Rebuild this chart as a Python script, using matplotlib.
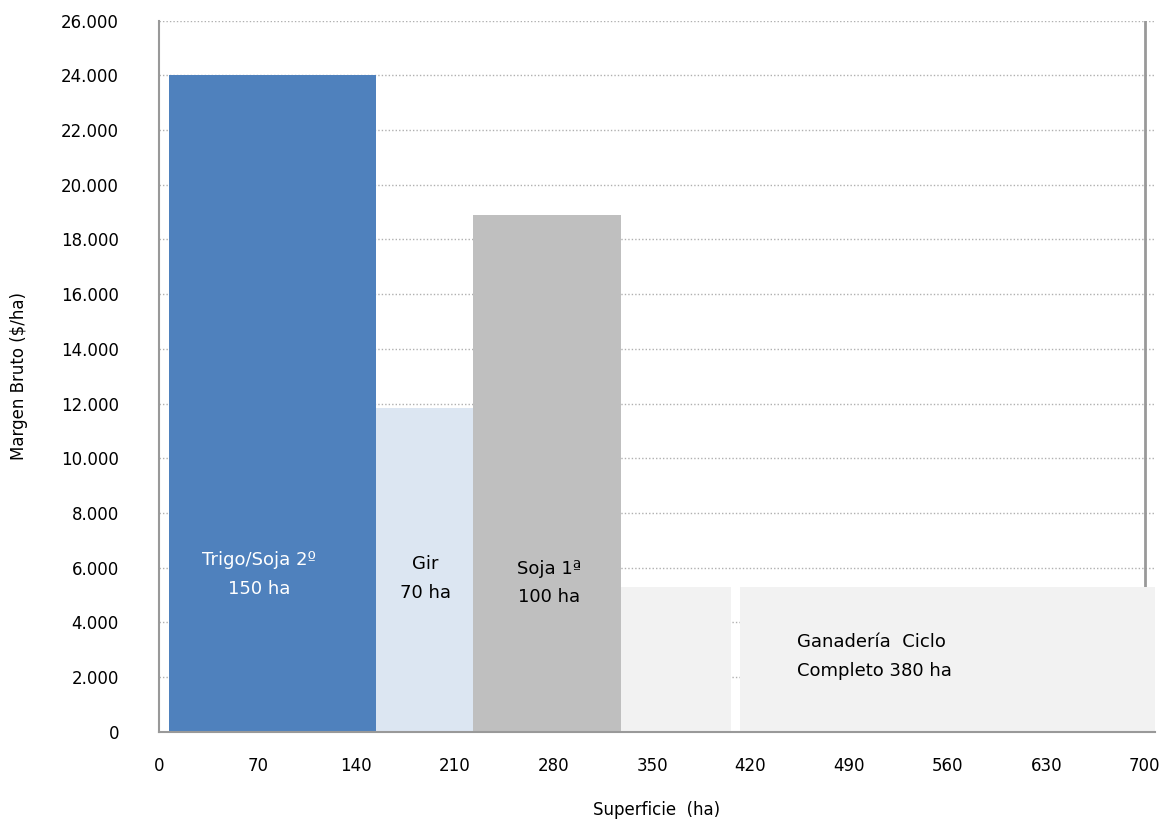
import matplotlib
matplotlib.use("Agg")
import matplotlib.pyplot as plt
from matplotlib.ticker import FuncFormatter, MultipleLocator

# data (ha on x, $/ha on y)
labels = ["Trigo/Soja 2º\n150 ha", "Gir\n70 ha", "Soja 1ª\n100 ha", "", "Ganadería  Ciclo\nCompleto 380 ha"]
starts = [7, 154, 223, 328, 412.5]
widths = [147, 69, 105, 78, 294.5]
margen = [24000, 11850, 18900, 5300, 5300]
colors = ["#4f81bd", "#dce6f2", "#bfbfbf", "#f2f2f2", "#f2f2f2"]
text_colors = ["white", "black", "black", "black", "black"]
label_x = [71, 189, 277, 0, 453]
label_y = [5750, 5600, 5450, 0, 2750]

plt.rcParams['font.family'] = ['DejaVu Sans']

fig = plt.figure(figsize=(11.71, 8.26), dpi=100)
ax = fig.add_axes([0.136, 0.114, 0.850, 0.861])

ax.bar(starts, margen, width=widths, align='edge', color=colors, zorder=2)

for i, lab in enumerate(labels):
    if not lab:
        continue
    ha = 'left' if i == 4 else 'center'
    ax.text(label_x[i], label_y[i], lab, color=text_colors[i], fontsize=13,
            ha=ha, va='center', zorder=3, linespacing=1.75)

ax.axvline(700, color='#999999', linewidth=2, zorder=1)

ax.set_xlim(0, 707)
ax.set_ylim(0, 26000)
ax.xaxis.set_major_locator(MultipleLocator(70))
ax.yaxis.set_major_locator(MultipleLocator(2000))
ax.yaxis.set_major_formatter(FuncFormatter(lambda v, p: f"{int(v):,}".replace(",", ".")))

ax.grid(axis='y', linestyle=(0, (1, 1.5)), color='#b0b0b0', linewidth=1, zorder=0)
ax.set_axisbelow(True)
ax.tick_params(axis='x', length=0, labelsize=12, pad=18)
ax.tick_params(axis='y', length=0, labelsize=12, pad=29)

for s in ['top', 'right']:
    ax.spines[s].set_visible(False)
for s in ['left', 'bottom']:
    ax.spines[s].set_color('#999999')
    ax.spines[s].set_linewidth(1.5)

ax.set_xlabel("Superficie  (ha)", fontsize=12, labelpad=19)
ax.set_ylabel("Margen Bruto ($/ha)", fontsize=12, labelpad=24)

fig.savefig("out.png", dpi=100)
